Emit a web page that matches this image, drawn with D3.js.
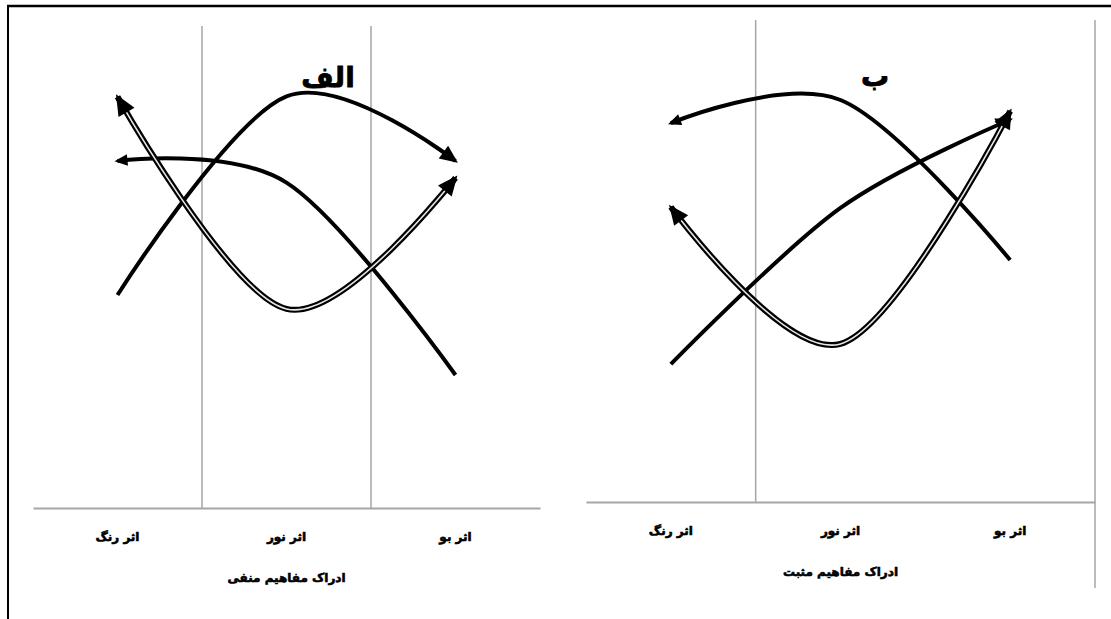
<!DOCTYPE html>
<meta charset="utf-8">
<style>
body { margin: 0; background: #fff; font-family: "DejaVu Sans", sans-serif; }
svg { display: block; }
.grid { stroke: #a6a6a6; stroke-width: 1.5px; }
.axis .domain { stroke: #a6a6a6; stroke-width: 2px; }
.axis text { font-size: 12px; font-weight: bold; fill: #000; stroke: #000; stroke-width: 0.6px; }
.title { font-size: 28px; font-weight: bold; stroke: #000; stroke-width: 0.8px; }
.axis-title { font-size: 12px; font-weight: bold; stroke: #000; stroke-width: 0.6px; }
</style>
<body>
<script src="https://d3js.org/d3.v7.min.js"></script>
<script>
// categories shared by both panels
var categories = ["اثر رنگ", "اثر نور", "اثر بو"];

// panel "الف" (negative concepts), 0..100
var negA = [44.2, 85.4, 72.0];   // rises then falls, arrow at right
var negB = [72.0, 67.5, 27.6];   // arrow at left
var negC = [85.3, 41.3, 68.5];   // double line, arrows at both ends

// panel "ب" (positive concepts)
var posD = [78.6, 83.4, 50.2];   // arrow at left
var posE = [28.6, 61.0, 79.3];   // arrow at right
var posF = [61.2, 32.8, 81.1];   // double line, arrows at both ends

var width = 1111, height = 619;

var svg = d3.select("body").append("svg")
    .attr("width", width)
    .attr("height", height);

// outer frame (top and left only)
svg.append("line").attr("x1", 7).attr("x2", width).attr("y1", 6).attr("y2", 6)
    .attr("stroke", "#000").attr("stroke-width", 2.5);
svg.append("line").attr("x1", 8).attr("x2", 8).attr("y1", 5).attr("y2", height)
    .attr("stroke", "#000").attr("stroke-width", 2);

var panels = [
  { left: 33, right: 540, base: 508, top: 26, title: "الف", tx: 328, ty: 87,
    axisTitle: "ادراک مفاهیم منفی", aty: 582, grid: [1, 2], gridBottom: 508,
    series: [
      { values: negA, double: false, start: null, end: 18 },
      { values: negB, double: false, start: 13, end: null },
      { values: negC, double: true, start: 21, end: 20 }
    ] },
  { left: 586, right: 1095, base: 502, top: 20, title: "ب", tx: 875, ty: 86,
    axisTitle: "ادراک مفاهیم مثبت", aty: 576, grid: [1, 3], gridBottom: 588,
    series: [
      { values: posD, double: false, start: 13, end: null },
      { values: posE, double: false, start: null, end: 17 },
      { values: posF, double: true, start: 20, end: 20 }
    ] }
];

panels.forEach(function(p) {
  var g = svg.append("g");

  var x = d3.scaleBand().domain(categories).range([p.left, p.right]);
  var y = d3.scaleLinear().domain([0, 100]).range([p.base, p.top]);

  // vertical gridlines at band edges
  p.grid.forEach(function(i) {
    var gx = p.left + i * x.bandwidth();
    g.append("line").attr("class", "grid")
        .attr("x1", gx).attr("x2", gx)
        .attr("y1", p.top).attr("y2", i === 3 ? p.gridBottom : p.base);
  });

  g.append("g")
      .attr("class", "axis")
      .attr("transform", "translate(0," + p.base + ")")
      .call(d3.axisBottom(x).tickSize(0).tickPadding(24))
      .call(function(a) { a.selectAll("text").attr("font-family", "DejaVu Sans"); });

  g.append("text").attr("class", "title")
      .attr("x", p.tx).attr("y", p.ty)
      .attr("text-anchor", "middle")
      .text(p.title);

  g.append("text").attr("class", "axis-title")
      .attr("x", (p.left + p.right) / 2).attr("y", p.aty)
      .attr("text-anchor", "middle")
      .text(p.axisTitle);

  var line = d3.line()
      .x(function(d, i) { return x(categories[i]) + x.bandwidth() / 2; })
      .y(function(d) { return y(d); })
      .curve(d3.curveCardinal.tension(0));

  p.series.forEach(function(s) {
    var path = g.append("path")
        .attr("d", line(s.values))
        .attr("fill", "none")
        .attr("stroke", "#000")
        .attr("stroke-width", s.double ? 6 : 4);
    if (s.double) {
      g.append("path")
          .attr("d", line(s.values))
          .attr("fill", "none")
          .attr("stroke", "#e6e6e6")
          .attr("stroke-width", 1.6);
    }
    var node = path.node(), len = node.getTotalLength();
    function arrow(atEnd, size) {
      var tip = node.getPointAtLength(atEnd ? len : 0);
      var back = node.getPointAtLength(atEnd ? len - 10 : 10);
      var ang = Math.atan2(tip.y - back.y, tip.x - back.x) * 180 / Math.PI;
      var hw = size * 0.44;
      g.append("path")
          .attr("d", "M3,0L" + (-size + 3) + "," + (-hw) + "L" + (-size + 3) + "," + hw + "Z")
          .attr("fill", "#000")
          .attr("transform", "translate(" + tip.x + "," + tip.y + ") rotate(" + ang + ")");
    }
    if (s.start) arrow(false, s.start);
    if (s.end) arrow(true, s.end);
  });
});
</script>
